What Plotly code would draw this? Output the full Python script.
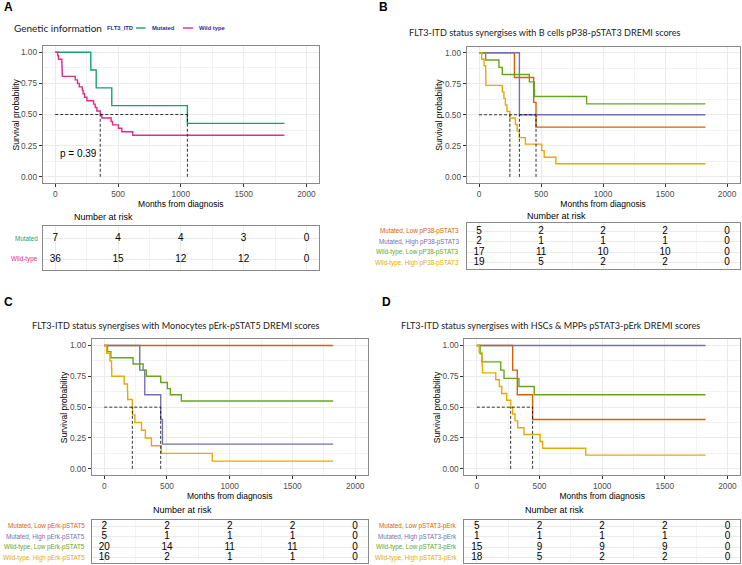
import plotly.graph_objects as go

W, H = 742, 565

# ---------------- shared scales ----------------
TIME_TICKS = [0, 500, 1000, 1500, 2000]
END_TIME = 1825
SURV_TICKS = [0, 0.25, 0.5, 0.75, 1.0]
SURV_TICK_TEXT = ["0.00", "0.25", "0.50", "0.75", "1.00"]

# ---------------- colours ----------------
C_MUT = "#1B9E77"
C_WT = "#E7298A"
C_MUT_LOW = "#D95F02"
C_MUT_HIGH = "#7570B3"
C_WT_LOW = "#66A61E"
C_WT_HIGH = "#E6AB02"

# ---------------- Panel A ----------------
A_mut_time = [0, 283, 326, 450, 1052]
A_mut_surv = [1.0, 0.857, 0.714, 0.571, 0.429]
A_wt_time = [0, 19, 26, 52, 53, 54, 55, 56, 159, 177, 191, 215, 222, 233, 252,
             305, 318, 331, 358, 371, 445, 456, 503, 530, 617]
A_wt_surv = [1.0, 0.972, 0.944, 0.917, 0.889, 0.861, 0.833, 0.806, 0.778, 0.75,
             0.722, 0.694, 0.667, 0.639, 0.611, 0.583, 0.556, 0.528, 0.5, 0.472,
             0.444, 0.417, 0.389, 0.361, 0.333]
A_medians = [358, 1052]
A_risk_labels = ["Mutated", "Wild-type"]
A_risk_mut = [7, 4, 4, 3, 0]
A_risk_wt = [36, 15, 12, 12, 0]
A_pvalue = "p = 0.39"

# ---------------- Panel B ----------------
B_title = "FLT3-ITD status synergises with B cells pP38-pSTAT3 DREMI scores"
B_mut_low_time = [0, 285, 440, 459]
B_mut_low_surv = [1.0, 0.8, 0.6, 0.4]
B_mut_high_time = [0, 325]
B_mut_high_surv = [1.0, 0.5]
B_wt_low_time = [0, 53, 160, 187, 405, 445, 447, 867]
B_wt_low_surv = [1.0, 0.941, 0.882, 0.824, 0.765, 0.706, 0.647, 0.588]
B_wt_high_time = [0, 21, 40, 53, 54, 55, 187, 200, 212, 225, 248, 293, 307, 325,
                  373, 505, 525, 619]
B_wt_high_surv = [1.0, 0.947, 0.895, 0.842, 0.789, 0.737, 0.684, 0.632, 0.579,
                  0.526, 0.474, 0.421, 0.368, 0.316, 0.263, 0.211, 0.158, 0.105]
B_medians = [248, 325, 459]
B_risk_labels = ["Mutated, Low pP38-pSTAT3", "Mutated, High pP38-pSTAT3",
                 "Wild-type, Low pP38-pSTAT3", "Wild-type, High pP38-pSTAT3"]
B_risk_mut_low = [5, 2, 2, 2, 0]
B_risk_mut_high = [2, 1, 1, 1, 0]
B_risk_wt_low = [17, 11, 10, 10, 0]
B_risk_wt_high = [19, 5, 2, 2, 0]

# ---------------- Panel C ----------------
C_title = "FLT3-ITD status synergises with Monocytes pErk-pSTAT5 DREMI scores"
C_mut_low_time = [0]
C_mut_low_surv = [1.0]
C_mut_high_time = [0, 283, 323, 450, 464]
C_mut_high_surv = [1.0, 0.8, 0.6, 0.4, 0.2]
C_wt_low_time = [0, 26, 53, 230, 310, 336, 450, 503, 527, 615]
C_wt_low_surv = [1.0, 0.95, 0.9, 0.85, 0.8, 0.75, 0.7, 0.65, 0.6, 0.55]
C_wt_high_time = [0, 19, 45, 58, 60, 159, 185, 187, 224, 226, 244, 297, 328, 376,
                  455, 861]
C_wt_high_surv = [1.0, 0.9375, 0.875, 0.8125, 0.75, 0.6875, 0.625, 0.5625, 0.5,
                  0.4375, 0.375, 0.3125, 0.25, 0.1875, 0.125, 0.0625]
C_medians = [224, 450]
C_risk_labels = ["Mutated, Low pErk-pSTAT5", "Mutated, High pErk-pSTAT5",
                 "Wild-type, Low pErk-pSTAT5", "Wild-type, High pErk-pSTAT5"]
C_risk_mut_low = [2, 2, 2, 2, 0]
C_risk_mut_high = [5, 1, 1, 1, 0]
C_risk_wt_low = [20, 14, 11, 11, 0]
C_risk_wt_high = [16, 2, 1, 1, 0]

# ---------------- Panel D ----------------
D_title = "FLT3-ITD status synergises with HSCs & MPPs pSTAT3-pErk DREMI scores"
D_mut_low_time = [0, 286, 323, 445]
D_mut_low_surv = [1.0, 0.8, 0.6, 0.4]
D_mut_high_time = [0]
D_mut_high_surv = [1.0]
D_wt_low_time = [0, 26, 40, 191, 217, 336, 458]
D_wt_low_surv = [1.0, 0.933, 0.867, 0.8, 0.733, 0.667, 0.6]
D_wt_high_time = [0, 19, 40, 43, 45, 151, 180, 199, 238, 270, 286, 305, 326, 376,
                  505, 525, 869]
D_wt_high_surv = [1.0, 0.944, 0.889, 0.833, 0.778, 0.722, 0.667, 0.611, 0.556,
                  0.5, 0.444, 0.389, 0.333, 0.278, 0.222, 0.167, 0.111]
D_medians = [270, 445]
D_risk_labels = ["Mutated, Low pSTAT3-pErk", "Mutated, High pSTAT3-pErk",
                 "Wild-type, Low pSTAT3-pErk", "Wild-type, High pSTAT3-pErk"]
D_risk_mut_low = [5, 2, 2, 2, 0]
D_risk_mut_high = [1, 1, 1, 1, 0]
D_risk_wt_low = [15, 9, 9, 9, 0]
D_risk_wt_high = [18, 5, 2, 2, 0]

# ---------------- fonts ----------------
F_GG = "Liberation Sans, Arial, sans-serif"
F_TITLE = "Lato, Open Sans, sans-serif"
BORDER = "#8a8a8a"
GRID = "#EBEBEB"
GRID_MINOR = "#F3F3F3"


def fx(p):
    return p / W


def fy(p):
    return 1 - p / H


four_colors = [C_MUT_LOW, C_MUT_HIGH, C_WT_LOW, C_WT_HIGH]

panels = [
    dict(plot_box=(42.7, 319.0, 46.0, 183.0), table_box=(42.7, 319.0, 225.7, 270.0),
         curves=[(A_mut_time, A_mut_surv, C_MUT), (A_wt_time, A_wt_surv, C_WT)],
         risk=[(A_risk_labels[0], A_risk_mut, C_MUT), (A_risk_labels[1], A_risk_wt, C_WT)],
         medians=A_medians, trange=[1.5, -0.58], lab_gap=2.5,
         nar=(72.0, 216.7, "left"), ytitle_x=15.0),
    dict(plot_box=(466.7, 739.5, 46.5, 183.0), table_box=(466.7, 739.5, 223.3, 269.0),
         curves=[(B_mut_low_time, B_mut_low_surv, C_MUT_LOW),
                 (B_mut_high_time, B_mut_high_surv, C_MUT_HIGH),
                 (B_wt_low_time, B_wt_low_surv, C_WT_LOW),
                 (B_wt_high_time, B_wt_high_surv, C_WT_HIGH)],
         risk=list(zip(B_risk_labels, [B_risk_mut_low, B_risk_mut_high, B_risk_wt_low,
                                       B_risk_wt_high], four_colors)),
         medians=B_medians, trange=[3.6, -0.75], lab_gap=6,
         nar=(525.0, 216.0, "left"), ytitle_x=439.0),
    dict(plot_box=(91.7, 367.7, 339.3, 475.0), table_box=(91.7, 367.7, 520.0, 563.3),
         curves=[(C_mut_low_time, C_mut_low_surv, C_MUT_LOW),
                 (C_mut_high_time, C_mut_high_surv, C_MUT_HIGH),
                 (C_wt_low_time, C_wt_low_surv, C_WT_LOW),
                 (C_wt_high_time, C_wt_high_surv, C_WT_HIGH)],
         risk=list(zip(C_risk_labels, [C_risk_mut_low, C_risk_mut_high, C_risk_wt_low,
                                       C_risk_wt_high], four_colors)),
         medians=C_medians, trange=[3.55, -0.6], lab_gap=4.5,
         nar=(150.7, 510.0, "left"), ytitle_x=64.0),
    dict(plot_box=(464.3, 740.0, 339.3, 475.0), table_box=(464.3, 740.0, 520.0, 563.3),
         curves=[(D_mut_low_time, D_mut_low_surv, C_MUT_LOW),
                 (D_mut_high_time, D_mut_high_surv, C_MUT_HIGH),
                 (D_wt_low_time, D_wt_low_surv, C_WT_LOW),
                 (D_wt_high_time, D_wt_high_surv, C_WT_HIGH)],
         risk=list(zip(D_risk_labels, [D_risk_mut_low, D_risk_mut_high, D_risk_wt_low,
                                       D_risk_wt_high], four_colors)),
         medians=D_medians, trange=[3.55, -0.6], lab_gap=5,
         nar=(523.0, 510.0, "left"), ytitle_x=437.0),
]

fig = go.Figure()
layout = dict(width=W, height=H, margin=dict(l=0, r=0, t=0, b=0),
              paper_bgcolor="white", plot_bgcolor="white", showlegend=False,
              font=dict(family=F_GG, color="#000000"))
annotations = []
shapes = []


def ax_names(n):
    return ("x" if n == 1 else f"x{n}", "y" if n == 1 else f"y{n}",
            "xaxis" if n == 1 else f"xaxis{n}", "yaxis" if n == 1 else f"yaxis{n}")


for i, p in enumerate(panels):
    pn = 2 * i + 1
    tn = 2 * i + 2
    px_, py_, pxk, pyk = ax_names(pn)
    tx_, ty_, txk, tyk = ax_names(tn)
    x0, x1, y0, y1 = p["plot_box"]
    layout[pxk] = dict(
        domain=[fx(x0), fx(x1)], range=[-100, 2100], tickvals=TIME_TICKS,
        ticks="outside", ticklen=3, tickcolor="#333333", tickwidth=0.8,
        showline=True, mirror=True, linecolor=BORDER, linewidth=1,
        showgrid=True, gridcolor=GRID, gridwidth=0.9, zeroline=False,
        minor=dict(dtick=250, tick0=0, showgrid=True, gridcolor=GRID_MINOR, gridwidth=0.6),
        tickfont=dict(size=8.3, color="#4D4D4D", family=F_GG),
        title=dict(text="Months from diagnosis", font=dict(size=8.5, color="#000000"),
                   standoff=1),
        anchor=py_, automargin=False)
    layout[pyk] = dict(
        domain=[fy(y1), fy(y0)], range=[-0.05, 1.05], tickvals=SURV_TICKS,
        ticktext=SURV_TICK_TEXT, ticks="outside", ticklen=3, tickcolor="#333333",
        tickwidth=0.8, showline=True, mirror=True, linecolor=BORDER, linewidth=1,
        showgrid=True, gridcolor=GRID, gridwidth=0.9, zeroline=False,
        minor=dict(dtick=0.125, tick0=0, showgrid=True, gridcolor=GRID_MINOR, gridwidth=0.6),
        tickfont=dict(size=8.3, color="#4D4D4D", family=F_GG),
        anchor=px_, automargin=False)
    annotations.append(dict(text="Survival probability", textangle=-90, x=fx(p["ytitle_x"]),
                            y=fy((y0 + y1) / 2), xref="paper", yref="paper",
                            xanchor="center", yanchor="middle", showarrow=False,
                            font=dict(size=8.5, color="#000000", family=F_GG)))

    # survival curves
    for t, s, col in p["curves"]:
        fig.add_trace(go.Scatter(x=t + [END_TIME], y=s + [s[-1]], mode="lines",
                                 line=dict(color=col, width=1.4, shape="hv"),
                                 xaxis=px_, yaxis=py_, hoverinfo="skip"))
    # median lines
    med = p["medians"]
    mx, my = [0, max(med), None], [0.5, 0.5, None]
    for m in med:
        mx += [m, m, None]
        my += [0, 0.5, None]
    fig.add_trace(go.Scatter(x=mx, y=my, mode="lines",
                             line=dict(color="#000000", width=0.8, dash="3px,2px"),
                             xaxis=px_, yaxis=py_, hoverinfo="skip"))

    # risk table
    tx0, tx1, ty0, ty1 = p["table_box"]
    nrows = len(p["risk"])
    layout[txk] = dict(
        domain=[fx(tx0), fx(tx1)], range=[-100, 2100], tickvals=TIME_TICKS,
        showticklabels=False, ticks="", showline=True, mirror=True, linecolor=BORDER,
        linewidth=1, showgrid=True, gridcolor=GRID, gridwidth=0.9, zeroline=False,
        minor=dict(dtick=250, tick0=0, showgrid=True, gridcolor=GRID_MINOR, gridwidth=0.6),
        anchor=ty_, automargin=False)
    layout[tyk] = dict(
        domain=[fy(ty1), fy(ty0)], range=p["trange"], tickvals=list(range(nrows)),
        showticklabels=False, ticks="", showline=True, mirror=True, linecolor=BORDER,
        linewidth=1, showgrid=True, gridcolor=GRID, gridwidth=0.9, zeroline=False,
        anchor=tx_, automargin=False)
    for r, (lab, vals, col) in enumerate(p["risk"]):
        fig.add_trace(go.Scatter(x=TIME_TICKS, y=[r] * len(vals), mode="text",
                                 text=[str(v) for v in vals],
                                 textfont=dict(size=10, color="#000000", family=F_GG),
                                 textposition="middle center",
                                 xaxis=tx_, yaxis=ty_, hoverinfo="skip"))
        annotations.append(dict(text=lab, x=fx(tx0 - p["lab_gap"]), y=r, xref="paper",
                                yref=ty_, xanchor="right", yanchor="middle",
                                showarrow=False,
                                font=dict(size=6.3, color=col, family=F_GG)))
    nx, ny, nanc = p["nar"]
    annotations.append(dict(text="Number at risk", x=fx(nx), y=fy(ny), xref="paper",
                            yref="paper", xanchor=nanc, yanchor="middle",
                            showarrow=False, font=dict(size=9, color="#000000", family=F_GG)))

# p-value in panel A
annotations.append(dict(text=A_pvalue, x=185, y=0.19, xref="x", yref="y",
                        xanchor="center", yanchor="middle", showarrow=False,
                        font=dict(size=10, color="#000000", family=F_GG)))

# panel letters
for lab, lx, ly in [("A", 1.5, 7), ("B", 376.5, 7), ("C", 1.5, 302), ("D", 379.5, 302)]:
    annotations.append(dict(text=f"<b>{lab}</b>", x=fx(lx), y=fy(ly), xref="paper",
                            yref="paper", xanchor="left", yanchor="middle",
                            showarrow=False, font=dict(size=12, color="#000000",
                                                       family=F_GG)))

# titles
for txt, lx, ly in [(B_title, 407, 32), (C_title, 30, 325.3), (D_title, 399.3, 325)]:
    annotations.append(dict(text=txt, x=fx(lx), y=fy(ly), xref="paper", yref="paper",
                            xanchor="left", yanchor="middle", showarrow=False,
                            font=dict(size=9.1, color="#222222", family=F_TITLE)))

# Panel A legend
LEG_BLUE = "#2B2B9A"
annotations.append(dict(text="Genetic information", x=fx(12), y=fy(28), xref="paper",
                        yref="paper", xanchor="left", yanchor="middle", showarrow=False,
                        font=dict(size=10, color="#222222", family=F_TITLE)))
annotations.append(dict(text="<b>FLT3_ITD</b>", x=fx(105), y=fy(28), xref="paper",
                        yref="paper", xanchor="left", yanchor="middle", showarrow=False,
                        font=dict(size=5.8, color=LEG_BLUE, family=F_GG)))
for lab, col, lx0, lx1, tx in [("Mutated", C_MUT, 136, 145.5, 150),
                               ("Wild type", C_WT, 183, 193, 197)]:
    shapes.append(dict(type="line", xref="paper", yref="paper", x0=fx(lx0), x1=fx(lx1),
                       y0=fy(28), y1=fy(28), line=dict(color=col, width=1.4)))
    annotations.append(dict(text=f"<b>{lab}</b>", x=fx(tx), y=fy(28), xref="paper",
                            yref="paper", xanchor="left", yanchor="middle",
                            showarrow=False,
                            font=dict(size=5.8, color=LEG_BLUE, family=F_GG)))

layout["annotations"] = annotations
layout["shapes"] = shapes
fig.update_layout(**layout)
fig.write_html("out.html")
